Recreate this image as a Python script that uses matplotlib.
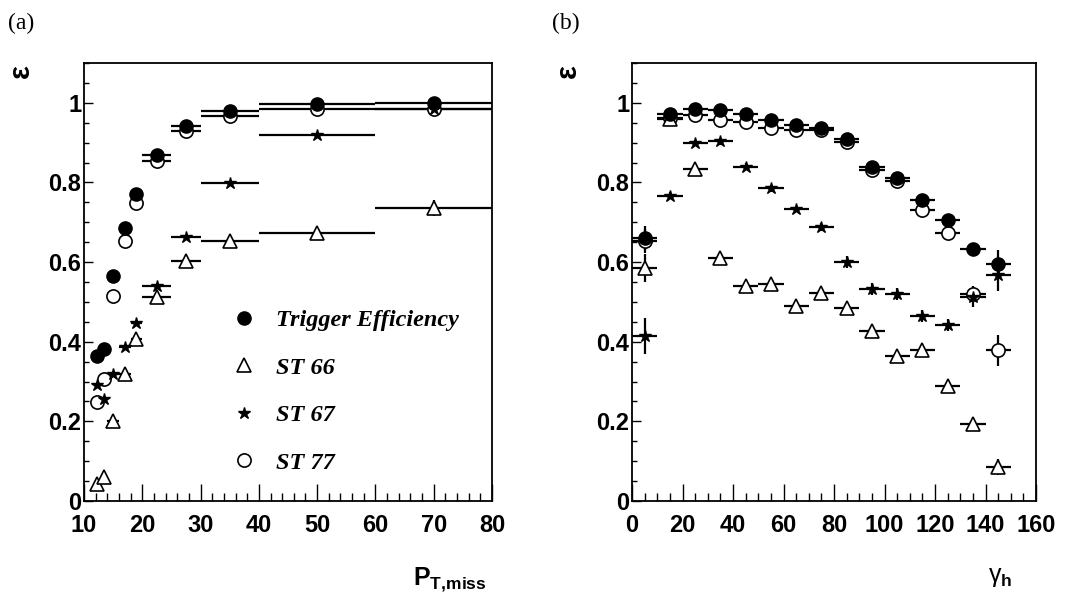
import numpy as np
import matplotlib
matplotlib.use('Agg')
import matplotlib.pyplot as plt
from matplotlib.lines import Line2D
from matplotlib.ticker import MultipleLocator, FuncFormatter

plt.rcParams['font.family'] = ['Liberation Sans', 'DejaVu Sans']
plt.rcParams['mathtext.fontset'] = 'custom'
plt.rcParams['mathtext.rm'] = 'Liberation Sans'
plt.rcParams['mathtext.bf'] = 'Liberation Sans:bold'
plt.rcParams['mathtext.it'] = 'Liberation Sans:italic'

# ------------ panel (a): efficiency vs P_T,miss ------------
pt_x = [12.3, 13.5, 15, 17, 19, 22.5, 27.5, 35, 50, 70]
pt_xerr = [0.25, 0.5, 1, 1, 1, 2.5, 2.5, 5, 10, 10]
pt_trig = [0.365, 0.382, 0.565, 0.686, 0.772, 0.870, 0.943, 0.979, 0.998, 1.0]
pt_trig_err = [0.005, 0.005, 0.005, 0.005, 0.004, 0.004, 0.003, 0.003, 0.002, 0.002]
pt_st66 = [0.043, 0.061, 0.200, 0.320, 0.406, 0.513, 0.603, 0.652, 0.673, 0.735]
pt_st66_err = [0.005, 0.005, 0.006, 0.006, 0.006, 0.006, 0.006, 0.006, 0.008, 0.02]
pt_st67 = [0.292, 0.257, 0.320, 0.386, 0.448, 0.540, 0.663, 0.798, 0.919, 0.985]
pt_st67_err = [0.005, 0.005, 0.005, 0.005, 0.005, 0.005, 0.005, 0.005, 0.005, 0.005]
pt_st77 = [0.249, 0.306, 0.516, 0.652, 0.748, 0.855, 0.929, 0.966, 0.985, 0.985]
pt_st77_err = [0.005, 0.005, 0.005, 0.005, 0.004, 0.004, 0.003, 0.003, 0.002, 0.002]

# ------------ panel (b): efficiency vs gamma_h ------------
g_x = [5, 15, 25, 35, 45, 55, 65, 75, 85, 95, 105, 115, 125, 135, 145]
g_xerr = [5] * 15
g_trig = [0.660, 0.972, 0.985, 0.982, 0.971, 0.958, 0.945, 0.936, 0.909,
          0.838, 0.811, 0.756, 0.706, 0.632, 0.596]
g_trig_err = [0.03, 0.005, 0.005, 0.005, 0.005, 0.005, 0.005, 0.005, 0.005,
              0.006, 0.006, 0.008, 0.01, 0.015, 0.035]
g_st66 = [0.586, 0.960, 0.834, 0.611, 0.540, 0.544, 0.489, 0.523, 0.485,
          0.428, 0.363, 0.378, 0.290, 0.193, 0.086]
g_st66_err = [0.035, 0.008, 0.01, 0.01, 0.01, 0.01, 0.01, 0.01, 0.01,
              0.012, 0.012, 0.012, 0.012, 0.015, 0.02]
g_st67 = [0.414, 0.767, 0.899, 0.903, 0.840, 0.785, 0.733, 0.687, 0.600,
          0.533, 0.521, 0.464, 0.441, 0.513, 0.567]
g_st67_err = [0.045, 0.008, 0.008, 0.008, 0.008, 0.008, 0.008, 0.01, 0.015,
              0.015, 0.015, 0.015, 0.015, 0.025, 0.04]
g_st77 = [0.653, 0.961, 0.970, 0.958, 0.953, 0.936, 0.932, 0.932, 0.902,
          0.832, 0.804, 0.731, 0.674, 0.519, 0.378]
g_st77_err = [0.03, 0.005, 0.005, 0.005, 0.005, 0.005, 0.005, 0.005, 0.006,
              0.006, 0.007, 0.009, 0.012, 0.02, 0.04]

labels = ['Trigger Efficiency', 'ST 66', 'ST 67', 'ST 77']

fig = plt.figure(figsize=(10.85, 5.99), dpi=100)
ax1 = fig.add_axes([84 / 1085, 98 / 599, 408 / 1085, 438 / 599])
ax2 = fig.add_axes([632 / 1085, 98 / 599, 404 / 1085, 438 / 599])

ms = 9.5
styles = {
    'st77': dict(marker='o', mfc='white', mec='black', ms=ms, mew=1.2),
    'st66': dict(marker='^', mfc='white', mec='black', ms=ms, mew=1.2),
    'st67': dict(marker='*', mfc='black', mec='black', ms=ms - 0.5),
    'trig': dict(marker='o', mfc='black', mec='black', ms=ms),
}


def draw(ax, x, xerr, series):
    for key, y, yerr in series:
        ax.errorbar(x, y, xerr=xerr, yerr=yerr, ls='none', color='black',
                    elinewidth=1.6, capsize=0, **styles[key])


draw(ax1, pt_x, pt_xerr, [('st77', pt_st77, pt_st77_err),
                          ('st66', pt_st66, pt_st66_err),
                          ('st67', pt_st67, pt_st67_err),
                          ('trig', pt_trig, pt_trig_err)])
draw(ax2, g_x, g_xerr, [('st77', g_st77, g_st77_err),
                        ('st66', g_st66, g_st66_err),
                        ('st67', g_st67, g_st67_err),
                        ('trig', g_trig, g_trig_err)])

tick_font = dict(family='Liberation Sans', weight='bold', size=17)
for ax, (x0, x1), xmaj, xmin in [(ax1, (10, 80), 10, 2), (ax2, (0, 160), 20, 5)]:
    ax.set_xlim(x0, x1)
    ax.set_ylim(0, 1.1)
    ax.xaxis.set_major_locator(MultipleLocator(xmaj))
    ax.xaxis.set_minor_locator(MultipleLocator(xmin))
    ax.yaxis.set_major_locator(MultipleLocator(0.2))
    ax.yaxis.set_minor_locator(MultipleLocator(0.05))
    ax.yaxis.set_major_formatter(FuncFormatter(lambda v, p: '%g' % round(v, 2)))
    ax.tick_params(axis='x', which='major', direction='in', length=12, width=1, pad=9)
    ax.tick_params(axis='x', which='minor', direction='in', length=6, width=1)
    ax.tick_params(axis='y', which='major', direction='in', length=6.5, width=1, pad=2)
    ax.tick_params(axis='y', which='minor', direction='in', length=3.5, width=1)
    for lab in ax.get_xticklabels() + ax.get_yticklabels():
        lab.set_fontproperties(tick_font)
    for sp in ax.spines.values():
        sp.set_linewidth(1.3)

# legend
handles = [Line2D([], [], ls='none', **styles[k]) for k in ['trig', 'st66', 'st67', 'st77']]
ax1.legend(handles, labels, loc='center left', bbox_to_anchor=(0.333, 0.25),
           frameon=False, borderpad=0, handlelength=1.0, handletextpad=0.8,
           labelspacing=1.05,
           prop=dict(family='Liberation Serif', weight='bold', style='italic', size=17.5))

# panel tags and axis titles
fig.text(8 / 1085, 1 - 29 / 599, '(a)', family='Liberation Serif', size=17, va='baseline')
fig.text(552 / 1085, 1 - 29 / 599, '(b)', family='Liberation Serif', size=17, va='baseline')
fig.text(21 / 1085, 1 - 71 / 599, 'ε', rotation=90, size=21, weight='bold',
         ha='center', va='center')
fig.text(568 / 1085, 1 - 71 / 599, 'ε', rotation=90, size=21, weight='bold',
         ha='center', va='center')
fig.text(487 / 1085, 1 - 585 / 599, r'$\mathbf{P_{T{,}miss}}$', size=18,
         ha='right', va='baseline')
fig.text(988 / 1085, 1 - 582 / 599, r'$\mathrm{\gamma}_{\mathbf{h}}$', size=18,
         ha='left', va='baseline')

fig.savefig('out.png', dpi=100)
